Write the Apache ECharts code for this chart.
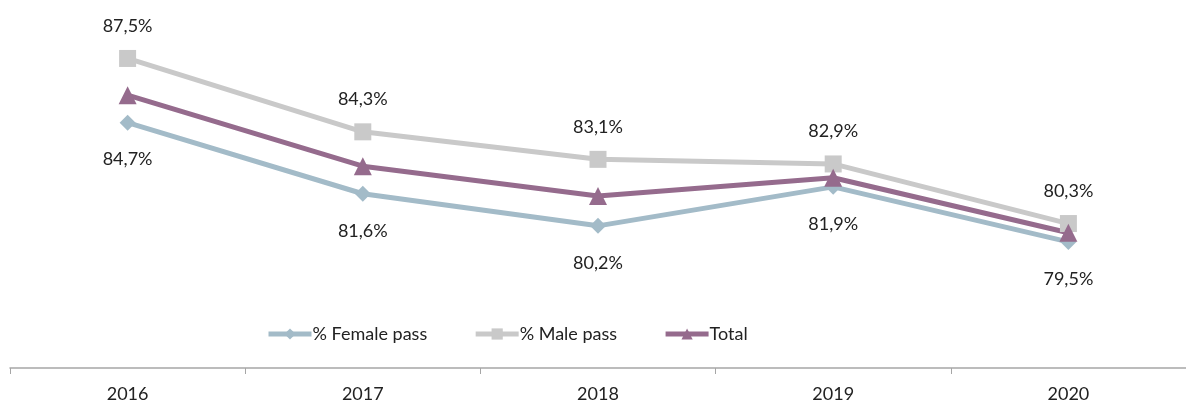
<!DOCTYPE html>
<html><head><meta charset="utf-8">
<script src="https://cdn.jsdelivr.net/npm/echarts@6/dist/echarts.min.js"></script>
<style>html,body{margin:0;padding:0;background:#fff}#c{width:1186px;height:403px}</style>
</head><body><div id="c"></div>
<script>
const categories = ['2016','2017','2018','2019','2020'];
const femalePass = [84.7, 81.6, 80.2, 81.9, 79.5];
const malePass = [87.5, 84.3, 83.1, 82.9, 80.3];
const totalPass = [85.9, 82.8, 81.5, 82.3, 79.9];
const seriesNames = ['% Female pass', '% Male pass', 'Total'];

const font = 'Lato, "DejaVu Sans", sans-serif';
const fmt = p => p.value.toFixed(1).replace('.', ',') + '%';
const chart = echarts.init(document.getElementById('c'));
chart.setOption({
  animation: false,
  grid: {left: 10, right: 0, top: 47, bottom: 35, containLabel: false},
  legend: {
    top: 320, left: 261, itemWidth: 43, itemHeight: 14, itemGap: 46,
    lineStyle: {width: 5},
    textStyle: {fontFamily: font, fontSize: 18, color: '#222', padding: [0,0,0,-4]},
    data: seriesNames
  },
  xAxis: {
    type: 'category', data: categories, boundaryGap: true,
    axisLine: {lineStyle: {color: '#A6A6A6', width: 1.5}},
    axisTick: {show: true, length: 6, lineStyle: {color: '#A6A6A6'}},
    axisLabel: {fontFamily: font, fontSize: 18, color: '#222', margin: 17}
  },
  yAxis: {type: 'value', min: 74, max: 88, show: false, splitLine: {show: false}},
  series: [
    {name: seriesNames[0], type: 'line', data: femalePass, symbol: 'diamond', symbolSize: 16,
     itemStyle: {color: '#A3BBC8'}, lineStyle: {width: 5, color: '#A3BBC8'},
     label: {show: true, position: 'bottom', distance: 20, formatter: fmt, fontFamily: font, fontSize: 18, color: '#222'}},
    {name: seriesNames[1], type: 'line', data: malePass, symbol: 'rect', symbolSize: 17,
     itemStyle: {color: '#C9C9C9'}, lineStyle: {width: 5, color: '#C9C9C9'},
     label: {show: true, position: 'top', distance: 15, formatter: fmt, fontFamily: font, fontSize: 18, color: '#222'}},
    {name: seriesNames[2], type: 'line', data: totalPass, symbol: 'triangle', symbolSize: 18,
     itemStyle: {color: '#956B8D'}, lineStyle: {width: 5, color: '#956B8D'}}
  ]
});
</script></body></html>
